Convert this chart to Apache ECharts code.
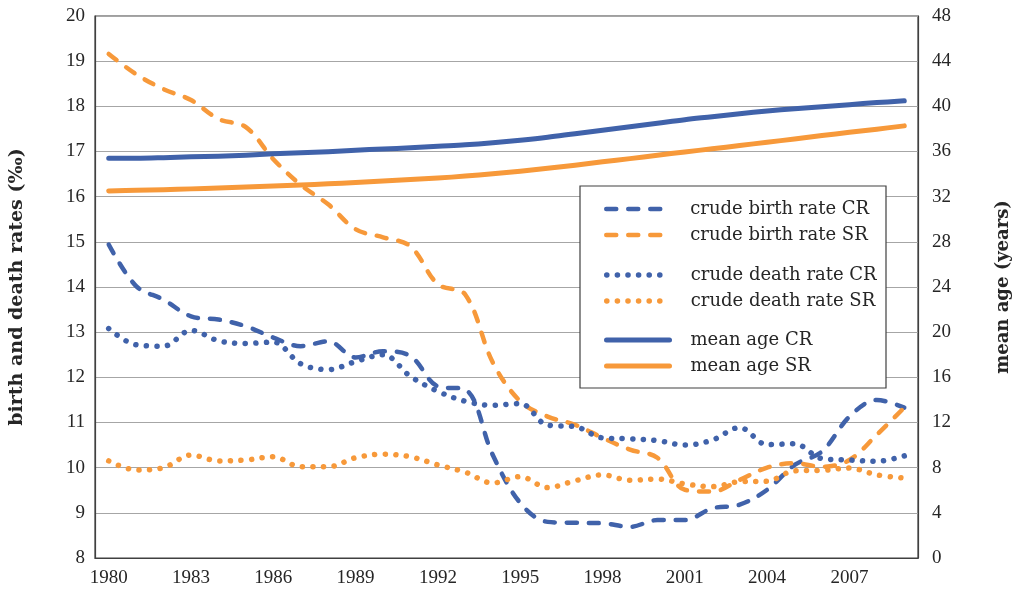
<!DOCTYPE html>
<html>
<head>
<meta charset="utf-8">
<script src="https://cdn.jsdelivr.net/npm/echarts@6/dist/echarts.min.js"></script>
<style>
  html, body { margin: 0; padding: 0; background: #fff; }
  #main { width: 1020px; height: 599px; }
</style>
</head>
<body>
<div id="main"></div>
<script>
// years on the x axis
let years = ['1980','1981','1982','1983','1984','1985','1986','1987','1988','1989',
             '1990','1991','1992','1993','1994','1995','1996','1997','1998','1999',
             '2000','2001','2002','2003','2004','2005','2006','2007','2008','2009'];

// rates (per mille), left axis
let birthCR = [14.94,14.02,13.72,13.35,13.28,13.13,12.88,12.69,12.80,12.44,12.58,12.47,11.80,11.73,10.28,
               9.22,8.80,8.78,8.77,8.69,8.84,8.84,9.10,9.18,9.51,10.06,10.36,11.13,11.50,11.33];
let birthSR = [19.16,18.71,18.38,18.14,17.72,17.54,16.83,16.26,15.83,15.28,15.10,14.90,14.06,13.83,12.33,
               11.47,11.13,10.95,10.66,10.40,10.22,9.51,9.47,9.73,10.00,10.10,10.02,10.17,10.73,11.33];
let deathCR = [13.08,12.72,12.69,13.04,12.81,12.75,12.78,12.30,12.17,12.35,12.50,12.02,11.69,11.47,11.38,
               11.42,10.94,10.91,10.66,10.64,10.60,10.50,10.61,10.89,10.51,10.53,10.20,10.17,10.14,10.26];
let deathSR = [10.15,9.95,10.00,10.28,10.15,10.17,10.24,10.02,10.02,10.22,10.30,10.24,10.06,9.90,9.66,
               9.80,9.56,9.71,9.84,9.72,9.75,9.64,9.58,9.69,9.70,9.93,9.94,9.99,9.84,9.77];

// mean age (years), right axis
let ageCR = [35.40,35.40,35.45,35.53,35.58,35.67,35.80,35.89,35.98,36.11,36.22,36.33,36.47,36.60,36.78,
             37.00,37.26,37.58,37.89,38.20,38.51,38.82,39.08,39.35,39.59,39.79,39.97,40.15,40.33,40.49];
let ageSR = [32.50,32.56,32.62,32.69,32.77,32.85,32.94,33.03,33.14,33.25,33.38,33.51,33.65,33.82,34.03,
             34.25,34.51,34.78,35.09,35.37,35.67,35.96,36.24,36.53,36.82,37.11,37.41,37.70,37.98,38.27];

const BLUE = '#4062aa';
const ORANGE = '#f7993a';
const FONT = "'Liberation Serif', 'DejaVu Serif', serif";
const WIDE = "'DejaVu Serif', serif";
const TXT = '#262626';

// line style per kind: dashed, dotted or solid
function styleOf(color, kind) {
    let ls = { color: color, width: 4.5, cap: 'round', join: 'round', type: 'solid' };
    if (kind === 'dash') ls.type = [10, 12];
    else if (kind === 'dot') { ls.type = [0.1, 10.5]; ls.width = 5.5; }
    else ls.width = 5;
    return ls;
}

function lineSeries(name, data, color, kind, axis) {
    return {
        name: name,
        type: 'line',
        yAxisIndex: axis,
        data: data,
        smooth: 0.35,
        symbol: 'none',
        color: color,
        lineStyle: styleOf(color, kind),
        z: 2
    };
}

function legendItem(name, color, kind) {
    return { name: name, lineStyle: styleOf(color, kind),
             itemStyle: { color: 'rgba(0,0,0,0)', borderWidth: 0, opacity: 0 } };
}

let legendBase = {
    orient: 'vertical',
    left: 604,
    padding: 0,
    itemWidth: 63,
    itemHeight: 14,
    itemGap: 8,
    z: 6,
    textStyle: { fontFamily: WIDE, fontSize: 18, color: TXT, padding: [0, 0, 0, 16] }
};

option = {
    animation: false,
    backgroundColor: '#fff',
    grid: {
        left: 95, right: 94, top: 16, bottom: 41,
        show: true, borderColor: '#404040', borderWidth: 1.2
    },
    legend: [
        Object.assign({}, legendBase, { top: 200, data: [
            legendItem('crude birth rate CR', BLUE, 'dash'),
            legendItem('crude birth rate SR', ORANGE, 'dash')] }),
        Object.assign({}, legendBase, { top: 266, data: [
            legendItem('crude death rate CR', BLUE, 'dot'),
            legendItem('crude death rate SR', ORANGE, 'dot')] }),
        Object.assign({}, legendBase, { top: 331, data: [
            legendItem('mean age CR', BLUE, 'solid'),
            legendItem('mean age SR', ORANGE, 'solid')] })
    ],
    graphic: [{
        type: 'rect',
        z: 5,
        shape: { x: 580, y: 186, width: 306, height: 202 },
        style: { fill: '#fff', stroke: '#404040', lineWidth: 1.2 }
    }],
    xAxis: {
        type: 'category',
        data: years,
        boundaryGap: true,
        axisLine: { lineStyle: { color: '#404040', width: 1.2 } },
        axisTick: { alignWithLabel: true, interval: 0, length: 6, lineStyle: { color: '#404040' } },
        axisLabel: { interval: 2, margin: 11, fontFamily: FONT, fontSize: 19, color: TXT }
    },
    yAxis: [
        {
            type: 'value',
            min: 8, max: 20, interval: 1,
            name: 'birth and death rates (‰)',
            nameLocation: 'middle',
            nameRotate: 90,
            nameGap: 68,
            nameTextStyle: { fontFamily: WIDE, fontSize: 19, fontWeight: 'bold', color: TXT },
            axisLine: { show: true, lineStyle: { color: '#404040', width: 1.2 } },
            axisTick: { show: false },
            axisLabel: { margin: 10, fontFamily: FONT, fontSize: 19, color: TXT },
            splitLine: { lineStyle: { color: '#a6a6a6', width: 1.2 } }
        },
        {
            type: 'value',
            min: 0, max: 48, interval: 4,
            name: 'mean age (years)',
            nameLocation: 'middle',
            nameRotate: 90,
            nameGap: 76,
            nameTextStyle: { fontFamily: WIDE, fontSize: 18, fontWeight: 'bold', color: TXT },
            axisLine: { show: true, lineStyle: { color: '#404040', width: 1.2 } },
            axisTick: { show: false },
            axisLabel: { margin: 14, fontFamily: FONT, fontSize: 19, color: TXT },
            splitLine: { show: false }
        }
    ],
    series: [
        lineSeries('crude birth rate CR', birthCR, BLUE, 'dash', 0),
        lineSeries('crude birth rate SR', birthSR, ORANGE, 'dash', 0),
        lineSeries('crude death rate CR', deathCR, BLUE, 'dot', 0),
        lineSeries('crude death rate SR', deathSR, ORANGE, 'dot', 0),
        lineSeries('mean age CR', ageCR, BLUE, 'solid', 1),
        lineSeries('mean age SR', ageSR, ORANGE, 'solid', 1)
    ]
};

let myChart = echarts.init(document.getElementById('main'));
myChart.setOption(option);
</script>
</body>
</html>
